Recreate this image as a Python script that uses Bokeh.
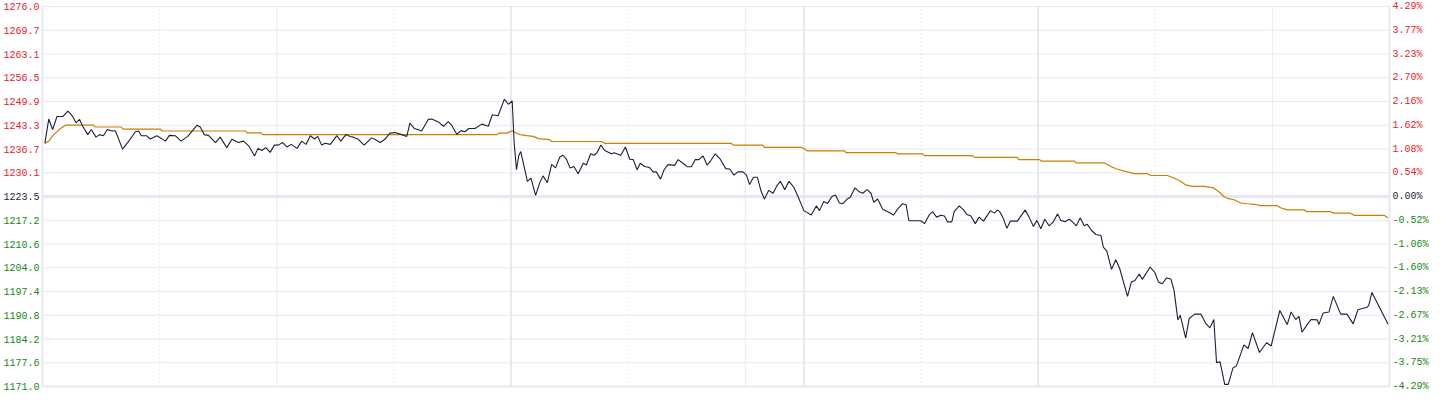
import numpy as np
from bokeh.plotting import figure
from bokeh.models import Range1d
from bokeh.core.properties import value
from bokeh.embed import file_html
from bokeh.resources import INLINE

# ---- data: minutes from session open (night 21:00-23:00, 9:00-10:15, 10:30-11:30, 13:30-15:00) ----
price_t = [0.6, 1.6, 2.6, 3.7, 5.2, 6.5, 7.6, 8.6, 9.5, 10.4, 11.6, 12.5, 13.7, 14.6, 15.6, 16.6, 17.4, 18.7,
           20.5, 22.1, 23.8, 24.6, 25.3, 26.6, 27.6, 29.3, 31.5, 32.5, 34.0, 35.5, 37.2, 39.6, 40.4, 41.4, 42.5,
           44.3, 45.5, 47.2, 48.5, 50.2, 51.5, 52.8, 54.3, 55.2, 56.2, 57.2, 58.3, 59.4, 60.4, 61.5, 62.6, 63.7,
           65.2, 66.4, 67.5, 68.6, 69.7, 70.5, 71.5, 72.4, 73.7, 75.4, 76.4, 77.7, 78.8, 79.6, 80.9, 82.4, 84.3,
           85.4, 86.5, 87.7, 89.0, 90.3, 92.0, 93.3, 94.1, 95.2, 96.1, 97.1, 98.8, 99.7, 101.4, 102.7, 103.9,
           104.8, 106.1, 107.2, 108.2, 109.2, 110.8, 112.5, 114.2, 115.2, 116.7, 118.3, 119.3, 120.3, 120.8,
           121.4, 122.0, 122.5, 124.2, 125.1, 126.3, 127.4, 128.2, 129.3, 130.4, 131.4, 132.5, 133.3, 134.2,
           135.1, 136.1, 137.2, 138.5, 139.3, 140.4, 141.3, 142.1, 143.0, 144.0, 145.7, 146.4, 148.1, 149.3,
           150.4, 151.3, 152.3, 153.1, 154.2, 155.5, 156.4, 157.2, 158.3, 159.2, 160.2, 161.9, 162.8, 164.0,
           165.2, 166.2, 167.2, 168.1, 169.2, 170.2, 171.1, 172.3, 173.6, 175.0, 176.0, 177.1, 178.1, 179.4,
           180.3, 181.1, 182.1, 183.1, 184.1, 184.9, 186.0, 187.1, 188.1, 189.0, 190.1, 191.2, 192.4, 193.5,
           195.0, 196.9, 198.2, 199.0, 200.1, 201.1, 202.2, 203.1, 204.1, 205.0, 206.1, 206.9, 208.1, 209.2,
           210.1, 211.2, 212.2, 212.9, 213.9, 215.2, 216.5, 218.0, 219.0, 220.3, 221.2, 221.9, 225.0, 225.9,
           227.1, 228.0, 229.0, 230.1, 231.0, 231.8, 232.9, 233.5, 234.8, 235.9, 236.8, 237.8, 238.9, 239.9,
           241.0, 242.8, 243.8, 244.6, 245.3, 246.1, 247.0, 247.9, 249.7, 251.7, 252.7, 253.8, 254.7, 255.7,
           256.7, 257.8, 258.9, 260.0, 260.8, 261.9, 263.0, 263.8, 264.8, 265.8, 266.8, 267.6, 268.7, 269.8,
           271.1, 271.7, 272.6, 273.8, 274.9, 275.9, 277.9, 278.9, 279.8, 280.9, 281.7, 283.7, 284.9, 285.8,
           286.8, 287.9, 289.0, 289.8, 290.8, 291.4, 292.8, 293.7, 295.1, 296.7, 297.9, 299.0, 300.0, 300.7,
           301.6, 302.8, 303.7, 304.9, 305.8, 307.7, 308.8, 309.9, 311.7, 313.5, 314.7, 316.9, 318.8, 319.8,
           321.0, 321.8, 322.6, 323.9, 324.9, 326.5, 326.9, 328.0, 329.5, 330.6, 332.5, 334.1, 335.7, 336.9,
           339.3, 339.7, 340.5, 344.6]
price = [1238.2, 1244.9, 1242.0, 1245.6, 1245.6, 1247.1, 1245.8, 1243.9, 1244.8, 1242.7, 1240.6, 1242.0, 1239.9,
         1240.6, 1240.3, 1242.0, 1241.7, 1241.6, 1236.6, 1238.8, 1241.4, 1241.6, 1240.3, 1240.3, 1239.4, 1240.3,
         1238.8, 1240.4, 1240.3, 1238.8, 1240.1, 1243.2, 1242.7, 1240.6, 1240.4, 1238.4, 1239.9, 1237.0, 1239.3,
         1238.4, 1238.8, 1237.5, 1234.7, 1236.8, 1236.2, 1237.0, 1235.7, 1237.7, 1237.7, 1238.4, 1237.2, 1237.9,
         1236.8, 1238.8, 1237.9, 1240.3, 1239.4, 1240.1, 1237.7, 1238.2, 1237.9, 1240.3, 1238.8, 1240.6, 1240.1,
         1239.9, 1239.3, 1237.7, 1239.7, 1239.1, 1238.4, 1239.3, 1241.0, 1241.2, 1240.6, 1240.1, 1243.8, 1242.3,
         1242.0, 1241.6, 1244.8, 1244.9, 1244.1, 1242.9, 1244.2, 1243.2, 1240.7, 1241.7, 1241.4, 1242.3, 1242.3,
         1243.5, 1242.9, 1246.1, 1245.8, 1250.4, 1249.0, 1249.9, 1238.4, 1230.9, 1234.9, 1235.9, 1227.7, 1228.6,
         1223.8, 1227.4, 1229.2, 1227.3, 1232.4, 1231.4, 1234.4, 1234.9, 1233.8, 1231.4, 1231.8, 1229.8, 1232.7,
         1232.2, 1235.3, 1234.9, 1235.7, 1237.7, 1236.2, 1235.3, 1235.6, 1234.9, 1237.2, 1233.8, 1233.7, 1230.9,
         1232.7, 1231.8, 1231.5, 1230.3, 1230.3, 1228.3, 1230.9, 1232.3, 1232.1, 1233.7, 1232.7, 1231.7, 1231.7,
         1233.7, 1233.7, 1234.7, 1232.2, 1233.3, 1235.3, 1233.8, 1231.2, 1231.1, 1229.4, 1230.3, 1230.3, 1229.4,
         1226.8, 1228.8, 1228.8, 1224.8, 1222.8, 1225.2, 1224.4, 1226.5, 1227.7, 1225.4, 1227.7, 1226.1, 1223.5,
         1219.6, 1218.4, 1220.9, 1219.6, 1222.1, 1221.6, 1223.5, 1223.9, 1221.7, 1221.5, 1222.8, 1223.3, 1225.9,
         1224.8, 1224.4, 1225.4, 1224.4, 1221.9, 1222.8, 1220.0, 1219.3, 1218.4, 1220.0, 1221.5, 1221.2, 1216.8,
         1216.8, 1216.0, 1218.4, 1219.3, 1217.8, 1218.3, 1218.1, 1216.5, 1216.5, 1219.3, 1220.9, 1219.8, 1218.5,
         1218.1, 1216.0, 1217.8, 1216.7, 1219.6, 1218.9, 1219.8, 1219.1, 1217.4, 1214.7, 1216.7, 1216.7, 1219.8,
         1217.8, 1215.2, 1216.9, 1214.6, 1217.2, 1215.4, 1216.5, 1218.7, 1216.9, 1216.5, 1217.2, 1216.5, 1215.4,
         1217.6, 1215.4, 1215.8, 1214.1, 1213.0, 1212.7, 1209.5, 1208.4, 1203.4, 1206.0, 1203.6, 1195.9, 1199.9,
         1200.3, 1202.1, 1200.6, 1204.0, 1202.5, 1199.9, 1199.4, 1201.0, 1200.7, 1197.7, 1189.4, 1190.7, 1184.4,
         1189.8, 1191.0, 1191.0, 1188.5, 1187.2, 1189.5, 1177.6, 1177.8, 1171.6, 1171.6, 1176.1, 1176.7, 1182.5,
         1181.5, 1185.9, 1180.4, 1183.1, 1182.2, 1192.0, 1188.1, 1191.6, 1189.5, 1190.4, 1186.0, 1188.1, 1189.5,
         1189.4, 1188.1, 1191.3, 1191.6, 1195.9, 1191.0, 1191.0, 1188.3, 1192.2, 1192.9, 1193.5, 1197.0, 1188.3]

avg_t = [0.6, 1.6, 2.5, 3.3, 4.6, 5.9, 13.1, 13.4, 20.2, 20.6, 30.2, 30.6, 52.1, 52.4, 56.0, 56.4, 116.4, 116.8,
         118.9, 120.4, 121.0, 122.3, 124.0, 125.7, 127.0, 129.9, 130.4, 143.2, 144.0, 176.4, 176.9, 184.5, 184.9,
         194.3, 195.2, 195.9, 205.4, 205.8, 218.6, 219.0, 225.4, 225.9, 238.2, 238.7, 249.7, 250.1, 255.3, 255.8,
         264.2, 264.7, 271.9, 273.6, 275.1, 277.8, 279.6, 283.0, 283.9, 288.1, 289.8, 291.5, 292.8, 294.5, 297.5,
         299.9, 301.3, 302.6, 303.5, 305.2, 306.9, 308.6, 310.7, 312.0, 316.2, 317.1, 318.8, 323.1, 323.9, 329.9,
         330.7, 335.0, 335.9, 343.6, 344.6]
avg = [1238.2, 1238.8, 1240.1, 1241.0, 1242.3, 1243.2, 1243.2, 1242.7, 1242.7, 1242.1, 1242.1, 1241.6, 1241.6,
       1241.1, 1241.1, 1240.6, 1240.6, 1241.0, 1241.0, 1241.7, 1241.2, 1240.6, 1240.3, 1240.1, 1239.5, 1239.2,
       1238.7, 1238.7, 1238.2, 1238.2, 1237.7, 1237.7, 1237.1, 1237.1, 1236.6, 1236.1, 1236.1, 1235.6, 1235.6,
       1235.3, 1235.3, 1234.8, 1234.8, 1234.3, 1234.3, 1233.7, 1233.7, 1233.3, 1233.3, 1232.8, 1232.8, 1231.8,
       1231.1, 1230.3, 1229.8, 1229.8, 1229.3, 1229.3, 1228.6, 1227.7, 1226.7, 1226.3, 1226.3, 1225.9, 1224.8,
       1223.5, 1223.0, 1222.6, 1221.7, 1221.5, 1221.3, 1221.0, 1221.0, 1220.4, 1219.8, 1219.8, 1219.3, 1219.3,
       1218.9, 1218.9, 1218.3, 1218.3, 1217.6]

left_labels = ["1276.0", "1269.7", "1263.1", "1256.5", "1249.9", "1243.3", "1236.7", "1230.1", "1223.5",
               "1217.2", "1210.6", "1204.0", "1197.4", "1190.8", "1184.2", "1177.6", "1171.0"]
right_labels = ["4.29%", "3.77%", "3.23%", "2.70%", "2.16%", "1.62%", "1.08%", "0.54%", "0.00%",
                "-0.52%", "-1.06%", "-1.60%", "-2.13%", "-2.67%", "-3.21%", "-3.75%", "-4.29%"]
base_price = 1223.5
y_low, y_high = 1171.0, 1276.0
t_start, t_end = 0, 345

grid_dotted = [30, 90, 150, 225, 285]
grid_solid = [60, 180, 315]
grid_session = [120, 195, 255]

# ---- layout (pixels) ----
W, H = 1432, 392
PAD_L, PAD_R, PAD_T, PAD_B = 42, 43, 6, 6

# ---- styles ----
GRID = "#e8e8f2"
GRID_DOT = "#d8d8e8"
RED = "#e8202a"
GREEN = "#118a11"
DARK = "#1f1f3d"
ORANGE = "#cc7e00"
FONT = "Liberation Mono"
FSIZE = "10px"

# full-canvas frame; the chart area is an inner data region so side labels are drawn as text glyphs
xs = (t_end - t_start) / (W - PAD_L - PAD_R)
ys = (y_high - y_low) / (H - PAD_T - PAD_B)
p = figure(width=W, height=H,
           x_range=Range1d(t_start - PAD_L * xs, t_end + PAD_R * xs),
           y_range=Range1d(y_low - PAD_B * ys, y_high + PAD_T * ys),
           x_axis_type=None, y_axis_type=None, output_backend="svg", toolbar_location=None,
           min_border=0)
p.grid.visible = False
p.outline_line_color = None
p.background_fill_color = "white"
p.border_fill_color = "white"

levels = list(np.linspace(y_low, y_high, len(left_labels)))[::-1]
hwidths = []
for i, lv in enumerate(levels):
    if abs(lv - base_price) < 1e-6:
        hwidths.append(3)
    elif i == len(levels) - 1:
        hwidths.append(2)
    else:
        hwidths.append(1)
p.segment(x0=[t_start] * len(levels), x1=[t_end] * len(levels), y0=levels, y1=levels,
          line_color=GRID, line_width=hwidths)

edges = [t_start, t_end]
p.segment(x0=edges, x1=edges, y0=[y_low] * 2, y1=[y_high] * 2, line_color=GRID, line_width=2)
p.segment(x0=grid_dotted, x1=grid_dotted, y0=[y_low] * len(grid_dotted), y1=[y_high] * len(grid_dotted),
          line_color=GRID_DOT, line_width=1, line_dash="1 3")
p.segment(x0=grid_solid, x1=grid_solid, y0=[y_low] * len(grid_solid), y1=[y_high] * len(grid_solid),
          line_color=GRID, line_width=1)
p.segment(x0=grid_session, x1=grid_session, y0=[y_low] * len(grid_session),
          y1=[y_high] * len(grid_session), line_color=GRID, line_width=2)

p.line(avg_t, avg, line_color=ORANGE, line_width=1.2)
p.line(price_t, price, line_color=DARK, line_width=1.1)

base_idx = left_labels.index("1223.5")
colors = [RED if i < base_idx else (DARK if i == base_idx else GREEN) for i in range(len(left_labels))]

p.text(x=[t_start] * len(levels), y=levels, text=left_labels, text_color=colors, x_offset=-3,
       text_align="right", text_baseline="middle", text_font=value(FONT), text_font_size=FSIZE)
p.text(x=[t_end] * len(levels), y=levels, text=right_labels, text_color=colors, x_offset=3,
       text_align="left", text_baseline="middle", text_font=value(FONT), text_font_size=FSIZE)

open("out.html", "w").write(file_html(p, INLINE))
